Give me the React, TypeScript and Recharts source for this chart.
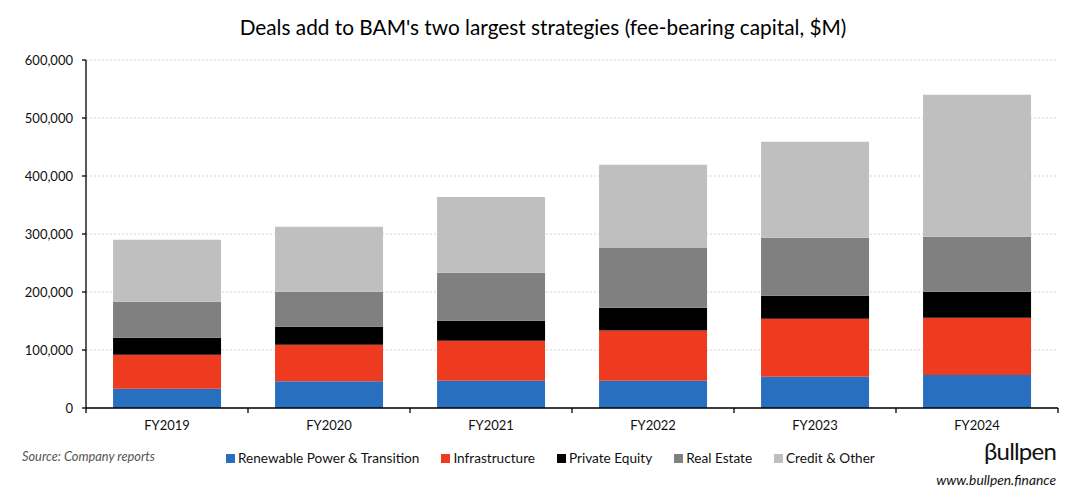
import React from "react";
import { BarChart, Bar, XAxis, YAxis, CartesianGrid } from "recharts";

const years = ["FY2019", "FY2020", "FY2021", "FY2022", "FY2023", "FY2024"];
const renewable = [33000, 46000, 47000, 47000, 54000, 57000];
const infrastructure = [59000, 63000, 69000, 86500, 100000, 98700];
const privateEquity = [29000, 31000, 34500, 39500, 39600, 44800];
const realEstate = [62000, 60500, 82500, 103000, 100000, 94800];
const creditOther = [107000, 112000, 131000, 143500, 165400, 244700];
const yTicks = [0, 100000, 200000, 300000, 400000, 500000, 600000];

const seriesNames = ["Renewable Power & Transition", "Infrastructure", "Private Equity", "Real Estate", "Credit & Other"];
const seriesKeys = ["renewable", "infrastructure", "privateEquity", "realEstate", "creditOther"];
const seriesColors = ["#2870BF", "#EE3A1E", "#000000", "#808080", "#BFBFBF"];

const data = years.map((y, i) => ({
  year: y,
  renewable: renewable[i],
  infrastructure: infrastructure[i],
  privateEquity: privateEquity[i],
  realEstate: realEstate[i],
  creditOther: creditOther[i],
}));

const FONT = "Lato, 'Noto Sans', sans-serif";
const W = 1086;
const H = 503;
const LEFT = 86;
const RIGHT = 28;
const STEP = (W - LEFT - RIGHT) / years.length;

const XTick = (props: any) => {
  const { x, y, payload, index } = props;
  const half = STEP / 2;
  return (
    <g>
      <line x1={x - half} x2={x - half} y1={y} y2={y + 5} stroke="#000" strokeWidth={1.3} />
      {index === years.length - 1 && (
        <line x1={x + half} x2={x + half} y1={y} y2={y + 5} stroke="#000" strokeWidth={1.3} />
      )}
      <text x={x} y={y + 22} textAnchor="middle" fontSize={13} fontFamily={FONT} fill="#111">
        {payload.value}
      </text>
    </g>
  );
};

export default function App() {
  return (
    <div style={{ position: "relative", width: W, height: H, background: "#fff", fontFamily: FONT }}>
      <style>{`body{margin:0;}`}</style>
      <div
        style={{
          position: "absolute",
          top: 14,
          left: 0,
          width: W,
          textAlign: "center",
          fontSize: 20.8,
          color: "#000",
        }}
      >
        Deals add to BAM's two largest strategies (fee-bearing capital, $M)
      </div>
      <div style={{ position: "absolute", left: 0, top: 0 }}>
        <BarChart
          width={W}
          height={H}
          data={data}
          margin={{ top: 60, right: RIGHT, bottom: 65, left: 0 }}
          barCategoryGap="16.7%"
        >
          <CartesianGrid vertical={false} stroke="#d4d4d4" strokeDasharray="2 2" />
          <XAxis
            dataKey="year"
            height={30}
            tickLine={false}
            tickSize={0}
            tickMargin={0}
            axisLine={{ stroke: "#000", strokeWidth: 1.3 }}
            tick={<XTick />}
            interval={0}
          />
          <YAxis
            width={LEFT}
            domain={[0, 600000]}
            ticks={yTicks}
            interval={0}
            tickSize={4}
            tickMargin={9}
            axisLine={{ stroke: "#000", strokeWidth: 1.3 }}
            tickLine={{ stroke: "#000", strokeWidth: 1.3 }}
            tick={{ fontSize: 13, fontFamily: FONT, fill: "#111" }}
            tickFormatter={(v: number) => v.toLocaleString("en-US")}
          />
          {seriesKeys.map((k, i) => (
            <Bar key={k} dataKey={k} name={seriesNames[i]} stackId="a" fill={seriesColors[i]} isAnimationActive={false} />
          ))}
        </BarChart>
      </div>
      <div
        style={{
          position: "absolute",
          left: 22,
          top: 448,
          fontSize: 12.8,
          fontStyle: "italic",
          color: "#555",
        }}
      >
        Source: Company reports
      </div>
      <div
        style={{
          position: "absolute",
          left: 226,
          top: 450,
          display: "flex",
          alignItems: "center",
          fontSize: 13.6,
          color: "#111",
          whiteSpace: "nowrap",
        }}
      >
        {seriesNames.map((n, i) => (
          <div key={n} style={{ display: "flex", alignItems: "center", marginRight: 22 }}>
            <span style={{ display: "inline-block", width: 9, height: 9, background: seriesColors[i], marginRight: 3 }} />
            <span>{n}</span>
          </div>
        ))}
      </div>
      <div
        style={{
          position: "absolute",
          right: 30,
          top: 436,
          fontSize: 24,
          color: "#111",
          letterSpacing: -0.8,
        }}
      >
        βullpen
      </div>
      <div
        style={{
          position: "absolute",
          right: 30,
          top: 471,
          fontSize: 13.8,
          fontStyle: "italic",
          color: "#111",
        }}
      >
        www.bullpen.finance
      </div>
    </div>
  );
}
